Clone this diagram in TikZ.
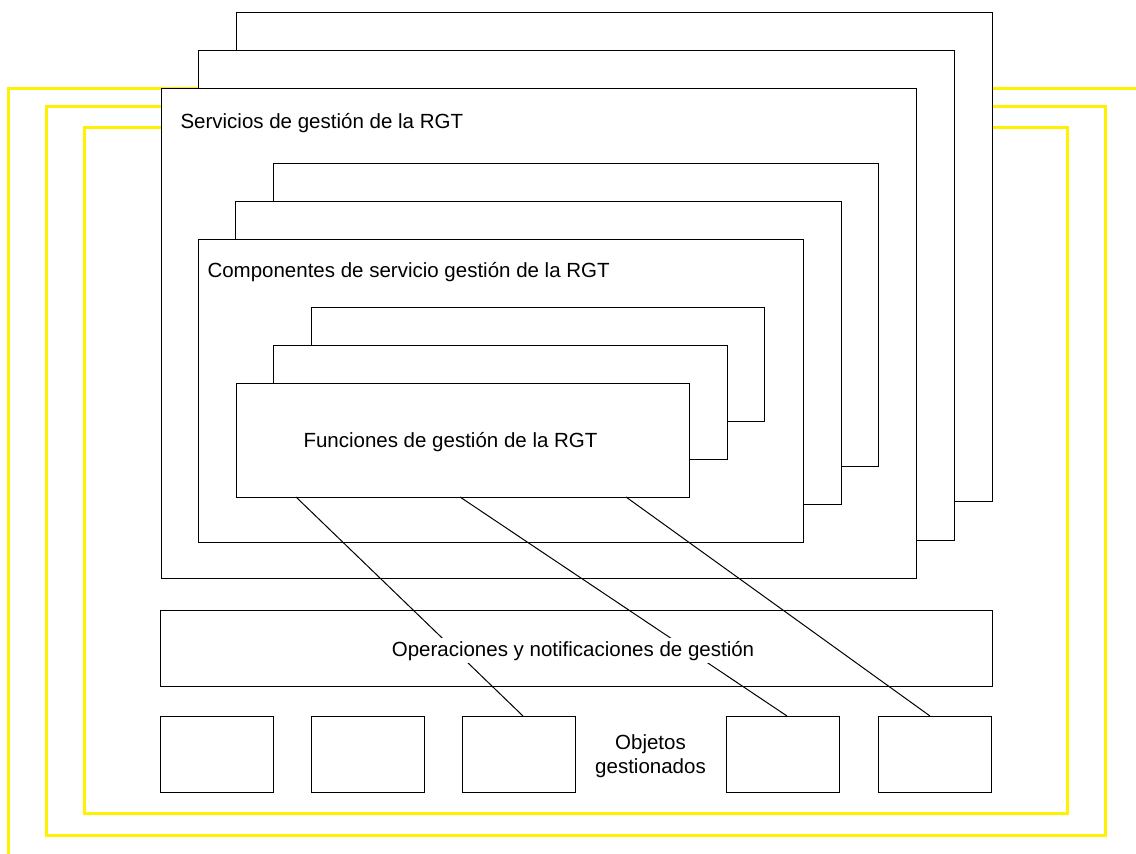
\documentclass[tikz,border=0pt]{standalone}
\usepackage{fontspec}
\setmainfont{Liberation Sans}
\usetikzlibrary{positioning,calc}
\tikzset{box/.style={draw,fill=white,line width=1pt,anchor=north west,inner sep=0pt,outer sep=0pt}}
\tikzset{lbl/.style={inner sep=0pt,font=\fontsize{20.5}{24}\selectfont}}

\begin{document}
\begin{tikzpicture}[x=1pt, y=-1pt, line width=1pt]
        \tikzstyle{frame}=[draw=yellow,line width=3pt]
        \useasboundingbox (0,0) rectangle (1136,854);
        % yellow frames
        \draw[frame] (8,854) -- (8,88) -- (1136,88);
        \draw[frame] (46,106) rectangle (1105,835);
        \draw[frame] (84,127) rectangle (1067,813);
        % services stack
        \node[box,minimum width=756pt,minimum height=489pt] (s3) at (236,12) {};
        \node[box,minimum width=756pt,minimum height=490pt] (s2) at (198,50) {};
        \node[box,minimum width=755pt,minimum height=490pt] (s1) at (161,88) {};
        % components stack
        \node[box,minimum width=605pt,minimum height=303pt] (c3) at (273,163) {};
        \node[box,minimum width=606pt,minimum height=303pt] (c2) at (235,201) {};
        \node[box,minimum width=605pt,minimum height=303pt] (c1) at (198,239) {};
        % functions stack
        \node[box,minimum width=453pt,minimum height=114pt] (f3) at (311,307) {};
        \node[box,minimum width=454pt,minimum height=114pt] (f2) at (273,345) {};
        \node[box,minimum width=453pt,minimum height=114pt] (f1) at (236,383) {};
        % operations and objects
        \node[box,minimum width=832pt,minimum height=76pt] (ops) at (160,610) {};
        \foreach \name/\x in {o1/160,o2/311,o3/462,o4/726,o5/878}
            \node[box,minimum width=113pt,minimum height=76pt] (\name) at (\x,716) {};
        \node[lbl,anchor=base west] (s1t) at ($(s1.north west)+(19,40)$) {Servicios de gestión de la RGT};
        \node[lbl,anchor=base west] (c1t) at ($(c1.north west)+(9,38)$) {Componentes de servicio gestión de la RGT};
        \node[lbl,anchor=base west] (f1t) at ($(f1.north west)+(67,64)$) {Funciones de gestión de la RGT};
        \node[lbl,align=center] (objt) at ($($(o3.east)!0.5!(o4.west)$)+(0,2)$) {Objetos\\gestionados};
        % links
        \coordinate (f1a) at ($(f1.south west)+(60,0)$);
        \coordinate (f1b) at ($(f1.south west)+(224,0)$);
        \coordinate (f1c) at ($(f1.south west)+(390,0)$);
        \coordinate (o3a) at ($(o3.north west)+(61,0)$);
        \coordinate (o4a) at ($(o4.north west)+(61,0)$);
        \coordinate (o5a) at ($(o5.north west)+(52,0)$);
        \draw (f1a) -- (o3a);
        \draw (f1b) -- (o4a);
        \draw (f1c) -- (o5a);
        \node[lbl,anchor=base,fill=white,inner sep=3pt] (opst) at ($(ops.center)+(-3,8)$) {Operaciones y notificaciones de gestión};
\end{tikzpicture}
\end{document}
